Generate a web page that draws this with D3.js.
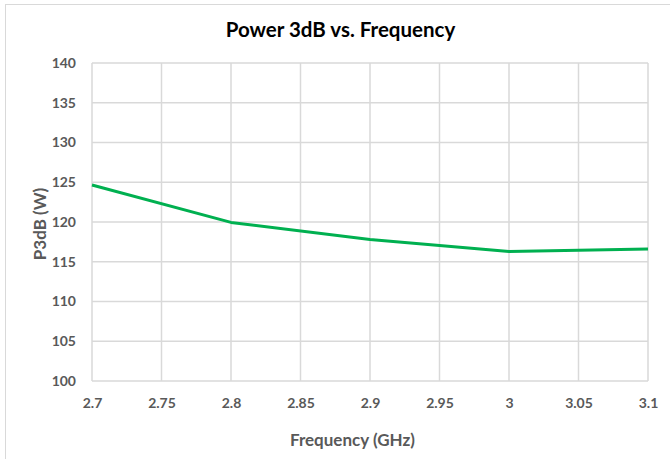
<!DOCTYPE html>
<html><head><meta charset="utf-8">
<script src="https://cdn.jsdelivr.net/npm/d3@7"></script>
<style>html,body{margin:0;padding:0;background:#fff;}</style>
</head><body>
<svg id="c" width="670" height="459"></svg>
<script>
const frequencies = [2.7, 2.8, 2.9, 3.0, 3.1];
const p3db = [124.65, 119.95, 117.8, 116.3, 116.6];
const xTicks = [2.7, 2.75, 2.8, 2.85, 2.9, 2.95, 3.0, 3.05, 3.1];
const yTicks = [100, 105, 110, 115, 120, 125, 130, 135, 140];
const title = "Power 3dB vs. Frequency";
const xTitle = "Frequency (GHz)";
const yTitle = "P3dB (W)";

const svg = d3.select("#c");
const W = 670, H = 459;
const m = {left: 92, right: 670 - 648, top: 63, bottom: 459 - 381};
const font = "Lato, 'Open Sans', sans-serif";

svg.append("rect").attr("x", 5.5).attr("y", 4.5).attr("width", 700).attr("height", 500)
  .attr("fill", "#fff").attr("stroke", "#d9d9d9").attr("stroke-width", 1);

const x = d3.scaleLinear().domain([2.7, 3.1]).range([m.left, W - m.right]);
const y = d3.scaleLinear().domain([100, 140]).range([H - m.bottom, m.top]);

// gridlines
const g = svg.append("g");
g.selectAll(".hg").data(yTicks).join("line")
  .attr("x1", m.left).attr("x2", W - m.right)
  .attr("y1", d => y(d)).attr("y2", d => y(d))
  .attr("stroke", "#d9d9d9").attr("stroke-width", 1.5);
g.selectAll(".vg").data(xTicks).join("line")
  .attr("y1", m.top).attr("y2", H - m.bottom)
  .attr("x1", d => x(d)).attr("x2", d => x(d))
  .attr("stroke", "#d9d9d9").attr("stroke-width", 1.5);

// axes (labels only)
const xa = svg.append("g").attr("transform", `translate(0,${H - m.bottom})`)
  .call(d3.axisBottom(x).tickValues(xTicks).tickSize(0).tickPadding(17).tickFormat(d => String(+d.toFixed(2))));
const ya = svg.append("g").attr("transform", `translate(${m.left},0)`)
  .call(d3.axisLeft(y).tickValues(yTicks).tickSize(0).tickPadding(16));
[xa, ya].forEach(a => {
  a.select(".domain").remove();
  a.selectAll("text").attr("font-family", font).attr("font-size", 14).attr("font-weight", "bold").attr("fill", "#595959");
});

// line
const data = frequencies.map((f, i) => ({f, v: p3db[i]}));
svg.append("path").datum(data)
  .attr("fill", "none").attr("stroke", "#00b050").attr("stroke-width", 3)
  .attr("stroke-linejoin", "round")
  .attr("d", d3.line().x(d => x(d.f)).y(d => y(d.v)));

// titles
svg.append("text").attr("x", 340.5).attr("y", 37).attr("text-anchor", "middle")
  .attr("font-family", font).attr("font-size", 20.5).attr("font-weight", "bold").attr("fill", "#000")
  .text(title);
svg.append("text").attr("x", 352.5).attr("y", 446).attr("text-anchor", "middle")
  .attr("font-family", font).attr("font-size", 17).attr("font-weight", "bold").attr("fill", "#595959")
  .text(xTitle);
svg.append("text").attr("transform", `translate(46,224) rotate(-90)`)
  .attr("text-anchor", "middle")
  .attr("font-family", font).attr("font-size", 17).attr("font-weight", "bold").attr("fill", "#595959")
  .text(yTitle);
</script>
</body></html>
